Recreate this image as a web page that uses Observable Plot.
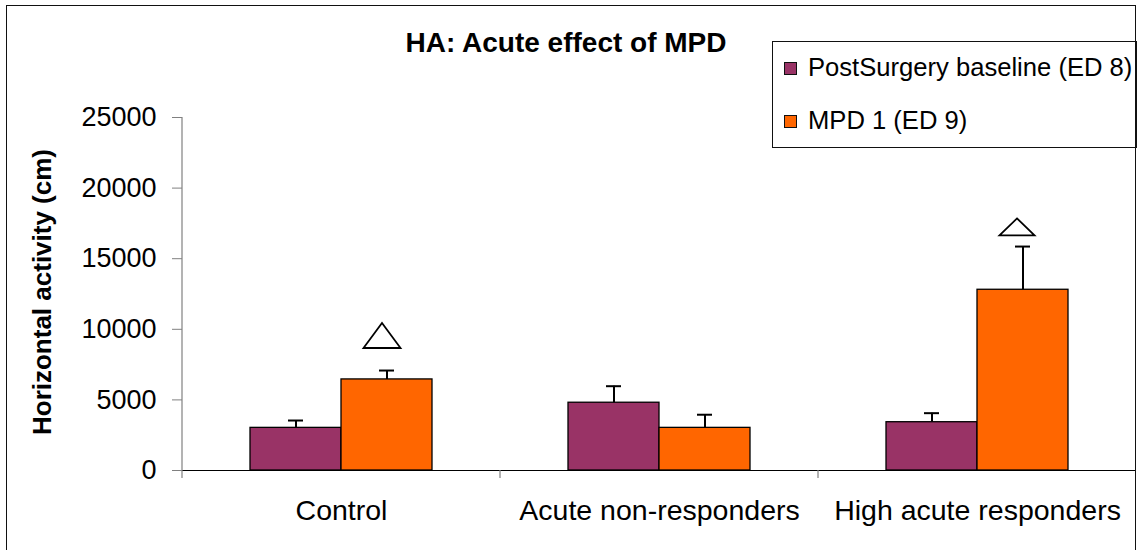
<!DOCTYPE html>
<html><head><meta charset="utf-8">
<script src="https://cdn.jsdelivr.net/npm/d3@7"></script>
<script src="https://cdn.jsdelivr.net/npm/@observablehq/plot@0.6"></script>
<style>
body{margin:0;background:#fff;}
#wrap{position:relative;width:1138px;height:550px;overflow:hidden;font-family:"Liberation Sans",Arial,Helvetica,sans-serif;color:#000;}
#chart{position:absolute;left:0;top:0;}
.frame{position:absolute;left:6px;top:5px;width:1130px;height:700px;border:1.6px solid #111;box-sizing:border-box;pointer-events:none;}
.title{position:absolute;left:566px;top:28.5px;transform:translateX(-50%);font-size:28px;font-weight:bold;line-height:1;white-space:nowrap;}
.ylabel{position:absolute;left:42px;top:292px;transform:translate(-50%,-50%) rotate(-90deg);font-size:26px;font-weight:bold;line-height:1;white-space:nowrap;}
.legend{position:absolute;left:772px;top:41px;width:365px;height:107px;border:1.2px solid #111;box-sizing:border-box;background:#fff;}
.legend .sw{position:absolute;left:11px;width:13px;height:13px;border:1.2px solid #111;box-sizing:border-box;}
.legend .lt{position:absolute;left:35px;font-size:25.6px;line-height:1;white-space:nowrap;}
</style></head><body>
<div id="wrap">
  <div id="chart"></div>
  <div class="title">HA: Acute effect of MPD</div>
  <div class="ylabel">Horizontal activity (cm)</div>
  <div class="legend" id="legend"></div>
  <div class="frame"></div>
</div>
<script>
// ---- data ----
const categories = ["Control", "Acute non-responders", "High acute responders"];
const seriesNames = ["PostSurgery baseline (ED 8)", "MPD 1 (ED 9)"];
const seriesColors = ["#993366", "#FF6600"];
const baselineValues = [3020, 4800, 3420];
const baselineErrors = [520, 1170, 640];
const mpdValues = [6450, 3020, 12800];
const mpdErrors = [630, 930, 3060];
const markerValues = [9560, null, 17250]; // triangle significance markers above MPD bars
const yTicks = [0, 5000, 10000, 15000, 20000, 25000];

// ---- tables ----
const rows = [];
categories.forEach((c, i) => {
  rows.push({cat: c, series: seriesNames[0], value: baselineValues[i], err: baselineErrors[i]});
  rows.push({cat: c, series: seriesNames[1], value: mpdValues[i], err: mpdErrors[i]});
});
const markers = categories.map((c, i) => ({cat: c, series: seriesNames[1], y: markerValues[i]})).filter(d => d.y != null);

function tri(w, h) {
  return {draw(ctx) {
    ctx.moveTo(0, -h / 2);
    ctx.lineTo(w / 2, h / 2);
    ctx.lineTo(-w / 2, h / 2);
    ctx.closePath();
  }};
}

const plot = Plot.plot({
  width: 1138, height: 550,
  marginLeft: 181, marginRight: 2, marginTop: 117, marginBottom: 80,
  style: {fontFamily: '"Liberation Sans", Arial, Helvetica, sans-serif', fontSize: "27px", color: "black", background: "transparent", overflow: "visible"},
  fx: {domain: categories, padding: 0},
  x: {domain: seriesNames, paddingInner: 0, paddingOuter: 0.738, axis: null},
  y: {domain: [0, 25000]},
  color: {domain: seriesNames, range: seriesColors},
  marks: [
    Plot.barY(rows, {fx: "cat", x: "series", y: "value", fill: "series", stroke: "black", strokeWidth: 1.3}),
    Plot.ruleX(rows, {fx: "cat", x: "series", y1: "value", y2: d => d.value + d.err, stroke: "black", strokeWidth: 2}),
    Plot.tickY(rows, {fx: "cat", x: "series", y: d => d.value + d.err, stroke: "black", strokeWidth: 2, insetLeft: 38, insetRight: 38}),
    Plot.dot(markers.slice(0, 1), {fx: "cat", x: "series", y: "y", symbol: tri(37, 25), fill: "white", stroke: "black", strokeWidth: 1.8, dx: -5}),
    Plot.dot(markers.slice(1), {fx: "cat", x: "series", y: "y", symbol: tri(35, 17), fill: "white", stroke: "black", strokeWidth: 1.8, dx: -6}),
    Plot.ruleY([0], {stroke: "black", strokeWidth: 1.2}),
    Plot.axisY({ticks: yTicks, tickSize: 10, tickPadding: 16, tickFormat: d => String(d), label: null, stroke: "#808080"}),
    Plot.axisFx({anchor: "bottom", tickSize: 0, tickPadding: 29, fontSize: 28.5, label: null})
  ]
});
document.getElementById("chart").appendChild(plot);

// axis line and category boundary ticks via the plot's scales
const fxs = plot.scale("fx"), ys = plot.scale("y");
const svg = d3.select(plot);
const g = svg.append("g").attr("stroke", "#808080").attr("stroke-width", 1.2);
const y0 = ys.apply(0), yTop = ys.apply(yTicks[yTicks.length - 1]);
const left = fxs.apply(fxs.domain[0]);
g.append("line").attr("x1", left).attr("x2", left).attr("y1", yTop).attr("y2", y0 + 8);
fxs.domain.slice(1).forEach(d => {
  const x = fxs.apply(d);
  g.append("line").attr("x1", x).attr("x2", x).attr("y1", y0).attr("y2", y0 + 8);
});

// legend
const lg = document.getElementById("legend");
const tops = [12.5, 65.5], swTops = [19.5, 72.5];
seriesNames.forEach((s, i) => {
  const sw = document.createElement("div");
  sw.className = "sw"; sw.style.top = swTops[i] + "px"; sw.style.background = seriesColors[i];
  const t = document.createElement("div");
  t.className = "lt"; t.style.top = tops[i] + "px"; t.textContent = s;
  lg.appendChild(sw); lg.appendChild(t);
});
</script>
</body></html>
